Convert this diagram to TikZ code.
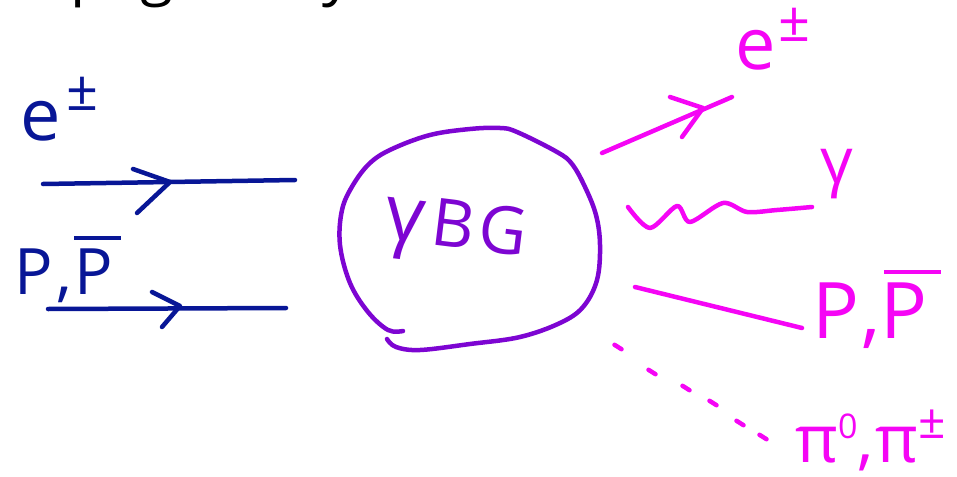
\documentclass[tikz,border=0pt]{standalone}
\usepackage{fontspec}
\setmainfont{Open Sans}
\definecolor{inkblue}{RGB}{8,22,150}
\definecolor{inkpurple}{RGB}{125,5,210}
\definecolor{inkmag}{RGB}{245,5,245}
\newcommand\mybarP[1][0pt]{\leavevmode\setbox0\hbox{P}\rlap{\hspace{#1}\raisebox{\dimexpr\ht0+8pt\relax}{\rule{1.2\wd0}{4pt}}}\box0}
\begin{document}
\begin{tikzpicture}[x=1pt,y=-1pt,line cap=round,line join=round,
  ink/.style={line width=4.5pt},
  lab/.style={inner sep=0pt,anchor=base west},
  big/.style={font=\fontsize{72}{72}\selectfont},
  mid/.style={font=\fontsize{64}{64}\selectfont}]
\useasboundingbox (0,0) rectangle (957,476);
\clip (0,0) rectangle (957,476);
% cut-off black text at the top
\node[lab,font=\fontsize{60}{60}\selectfont] (top1) at (70,-6) {page};
\node[lab,font=\fontsize{60}{60}\selectfont] (top2) at (322,-6) {y};
% incoming lines (blue)
\node[lab,big,text=inkblue] (ein) at (20,140) {e\hspace{6pt}\raisebox{30pt}{\fontsize{56}{56}\selectfont ±}};
\node[lab,mid,text=inkblue] (pin) at (14,294) {P\hspace{4pt},\hspace{2pt}\mybarP};
\coordinate (a1s) at (43,184); \coordinate (a1e) at (295,180); \coordinate (a1t) at (170,182);
\coordinate (a2s) at (48,309); \coordinate (a2e) at (286,308); \coordinate (a2t) at (180,306);
\draw[ink,inkblue] (a1s) -- (a1e);
\draw[ink,inkblue] (a1t) ++(-37,-13) -- (a1t) -- ++(-33,31);
\draw[ink,inkblue] (a2s) -- (a2e);
\draw[ink,inkblue] (a2t) ++(-28,-14) -- (a2t) -- ++(-18,21);
% blob
\draw[ink,inkpurple] plot[smooth,tension=0.6] coordinates {(403,331) (388,330) (368,312) (350,283) (340,245) (342,210) (353,185) (370,163) (392,149) (430,135) (470,129) (500,128) (517,132) (557,152) (572,164) (585,187) (596,215) (600,245) (597,280) (583,307) (560,323) (520,337) (470,344) (420,350) (396,347) (387,339)};
\node[inner sep=0pt,font=\fontsize{66}{66}\selectfont,text=inkpurple,rotate=-7] (tbg) at (455,233) {{\fontsize{78}{78}\selectfont γ}\hspace{8pt}B\hspace{4pt}G};
% outgoing (magenta)
\node[lab,big,text=inkmag] (eout) at (735,70) {e\hspace{3pt}\raisebox{28pt}{\fontsize{56}{56}\selectfont ±}};
\coordinate (o1s) at (602,153); \coordinate (o1e) at (732,97); \coordinate (o1t) at (703,108);
\draw[ink,inkmag] (o1s) -- (o1e);
\draw[ink,inkmag] (o1t) ++(-33,-11) -- (o1t) -- ++(-21,29);
\node[lab,mid,text=inkmag] (gout) at (820,183) {γ};
\draw[ink,inkmag] plot[smooth,tension=0.5] coordinates {(628,207) (650,228) (677,206) (690,222) (723,203) (747,212) (777,210) (812,207)};
\node[lab,font=\fontsize{78}{78}\selectfont,text=inkmag] (pout) at (812,338) {P\hspace{2pt},\hspace{0pt}\mybarP[4pt]};
\coordinate (o3s) at (635,287); \coordinate (o3e) at (802,328);
\draw[ink,inkmag] (o3s) -- (o3e);
\foreach \p in {(618,347),(652,372),(686,388),(713,403),(740,423),(763,437)}
  \draw[ink,inkmag] \p ++(-3.5,-2.2) -- ++(7,4.4);
\node[lab,font=\fontsize{66}{66}\selectfont,text=inkmag] (piout) at (795,462) {π\raisebox{24pt}{\fontsize{34}{34}\selectfont 0},\hspace{2pt}π\raisebox{24pt}{\fontsize{48}{48}\selectfont ±}};
\end{tikzpicture}
\end{document}
